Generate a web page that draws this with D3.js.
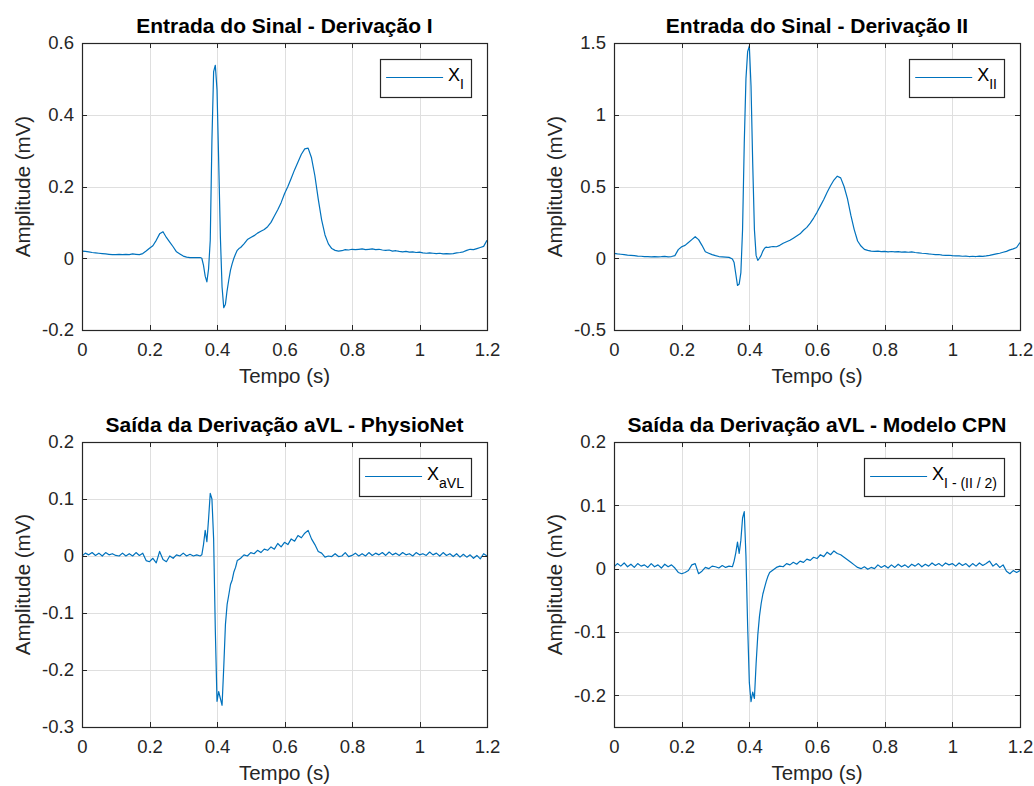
<!DOCTYPE html>
<html>
<head>
<meta charset="utf-8">
<script src="https://cdn.jsdelivr.net/npm/d3@7"></script>
<style>
  html, body { margin: 0; padding: 0; background: #fff; }
  svg { display: block; font-family: "Liberation Sans", Arial, Helvetica, sans-serif; }
</style>
</head>
<body>
<div id="chart"></div>
<script>
const WIDTH  = 1034;
const HEIGHT = 786;
const LINE_COLOR = "#0072bd";
const AXIS_COLOR = "#262626";
const GRID_COLOR = "#dfdfdf";

// sample times (s): 10 ms steps, 5 ms around the QRS complex
const tempo = [
  0.00,0.01,0.02,0.03,0.04,0.05,0.06,0.07,0.08,0.09,
  0.10,0.11,0.12,0.13,0.14,0.15,0.16,0.17,0.18,0.19,
  0.20,0.21,0.22,0.23,0.24,0.25,0.26,0.27,0.28,0.29,
  0.30,0.31,0.32,0.33,0.34,
  0.350,0.355,0.360,0.365,0.370,0.375,0.380,0.385,0.390,0.395,
  0.400,0.405,0.410,0.415,0.420,0.425,0.430,0.435,0.440,0.445,
  0.450,0.455,0.460,0.465,
  0.47,0.48,0.49,0.50,0.51,0.52,0.53,0.54,0.55,0.56,
  0.57,0.58,0.59,0.60,0.61,0.62,0.63,0.64,0.65,0.66,
  0.67,0.68,0.69,0.70,0.71,0.72,0.73,0.74,0.75,0.76,
  0.77,0.78,0.79,0.80,0.81,0.82,0.83,0.84,0.85,0.86,
  0.87,0.88,0.89,0.90,0.91,0.92,0.93,0.94,0.95,0.96,
  0.97,0.98,0.99,1.00,1.01,1.02,1.03,1.04,1.05,1.06,
  1.07,1.08,1.09,1.10,1.11,1.12,1.13,1.14,1.15,1.16,
  1.17,1.18,1.19,1.20
];

// lead I (mV)
const derivI = [
  0.020,0.019,0.018,0.016,0.015,0.014,0.013,0.012,0.011,0.010,
  0.010,0.011,0.010,0.011,0.010,0.012,0.011,0.010,0.013,0.020,
  0.028,0.035,0.050,0.068,0.074,0.058,0.045,0.032,0.018,0.012,
  0.006,0.003,0.002,0.002,0.002,
  0.002,0.000,-0.020,-0.050,-0.066,-0.030,0.050,0.330,0.520,0.538,
  0.470,0.270,0.060,-0.080,-0.138,-0.128,-0.090,-0.060,-0.033,-0.015,
  0.000,0.012,0.022,0.027,
  0.030,0.040,0.052,0.058,0.063,0.070,0.075,0.080,0.088,0.100,
  0.118,0.135,0.155,0.180,0.200,0.223,0.247,0.268,0.290,0.305,
  0.307,0.280,0.230,0.165,0.107,0.065,0.040,0.027,0.022,0.020,
  0.021,0.024,0.023,0.025,0.024,0.025,0.026,0.024,0.025,0.026,
  0.024,0.025,0.023,0.022,0.023,0.020,0.021,0.019,0.018,0.019,
  0.017,0.018,0.016,0.017,0.015,0.014,0.015,0.014,0.013,0.014,
  0.012,0.013,0.012,0.013,0.015,0.016,0.018,0.022,0.025,0.024,
  0.027,0.030,0.033,0.050
];

// lead II (mV)
const derivII = [
  0.034,0.030,0.028,0.025,0.022,0.020,0.018,0.015,0.014,0.012,
  0.011,0.010,0.012,0.010,0.011,0.013,0.010,0.012,0.018,0.060,
  0.080,0.090,0.110,0.130,0.150,0.130,0.090,0.045,0.035,0.025,
  0.018,0.012,0.010,0.008,0.006,
  -0.005,-0.030,-0.110,-0.190,-0.180,-0.100,0.200,0.800,1.250,1.440,
  1.480,1.200,0.660,0.200,0.020,-0.015,0.000,0.020,0.050,0.070,
  0.078,0.075,0.078,0.080,
  0.082,0.080,0.090,0.105,0.115,0.125,0.140,0.155,0.170,0.195,
  0.215,0.245,0.280,0.320,0.365,0.410,0.460,0.505,0.545,0.572,
  0.560,0.500,0.415,0.300,0.200,0.120,0.085,0.062,0.055,0.050,
  0.048,0.050,0.046,0.048,0.045,0.047,0.044,0.046,0.043,0.045,
  0.042,0.044,0.040,0.038,0.035,0.033,0.030,0.028,0.025,0.026,
  0.022,0.020,0.021,0.018,0.016,0.017,0.014,0.015,0.012,0.014,
  0.012,0.015,0.013,0.016,0.020,0.025,0.030,0.035,0.042,0.048,
  0.058,0.065,0.075,0.110
];

// aVL from PhysioNet (mV)
const aVLPhysioNet = [
  0.000,0.005,0.002,0.006,0.001,0.005,0.000,0.006,0.002,0.004,
  0.001,0.000,0.005,0.000,0.004,0.000,0.006,0.001,0.005,-0.008,
  -0.010,-0.004,-0.012,0.008,-0.006,-0.010,0.000,-0.004,0.002,0.000,
  0.005,0.000,0.003,0.000,0.002,
  0.000,0.002,0.020,0.045,0.025,0.065,0.110,0.100,0.030,-0.130,
  -0.255,-0.238,-0.250,-0.262,-0.195,-0.120,-0.085,-0.068,-0.050,-0.042,
  -0.028,-0.020,-0.008,-0.006,
  -0.004,0.002,0.000,0.006,0.004,0.010,0.006,0.012,0.010,0.016,
  0.012,0.022,0.016,0.024,0.020,0.030,0.026,0.036,0.032,0.040,
  0.045,0.030,0.020,0.008,0.005,-0.002,0.000,-0.001,0.004,-0.001,
  0.000,0.006,-0.001,0.001,0.005,0.000,0.004,0.000,0.006,0.001,
  0.005,0.002,0.006,0.001,0.007,0.002,0.005,0.001,0.006,0.002,
  0.004,0.000,0.006,0.002,0.004,0.001,0.007,0.002,0.005,0.000,
  0.006,0.001,0.004,-0.001,0.004,-0.002,0.003,-0.002,0.002,-0.004,
  0.001,-0.005,0.004,0.000
];

// aVL from the CPN model, I - II/2 (mV)
const aVLCPN = [
  0.003,0.008,0.004,0.009,0.003,0.007,0.002,0.008,0.004,0.006,
  0.002,0.008,0.003,0.006,0.001,0.007,0.003,0.006,0.001,-0.006,
  -0.008,-0.006,-0.003,0.006,0.008,-0.008,-0.004,0.002,0.000,0.004,
  0.003,0.001,0.005,0.002,0.004,
  0.003,0.012,0.025,0.042,0.024,0.045,0.080,0.090,0.020,-0.090,
  -0.180,-0.210,-0.195,-0.205,-0.150,-0.105,-0.075,-0.055,-0.040,-0.030,
  -0.020,-0.012,-0.006,-0.004,
  -0.002,0.002,0.004,0.003,0.008,0.006,0.010,0.007,0.012,0.010,
  0.015,0.013,0.018,0.016,0.022,0.019,0.026,0.022,0.028,0.024,
  0.022,0.018,0.014,0.010,0.006,0.002,0.000,0.003,-0.001,0.002,
  0.000,0.006,0.002,0.005,0.001,0.006,0.002,0.007,0.003,0.006,
  0.002,0.007,0.004,0.008,0.003,0.007,0.004,0.009,0.005,0.008,
  0.004,0.009,0.006,0.008,0.004,0.009,0.005,0.008,0.003,0.008,
  0.004,0.009,0.005,0.008,0.012,0.004,0.008,0.002,0.006,-0.004,
  -0.008,-0.003,-0.006,-0.003
];

const xTicks = [0, 0.2, 0.4, 0.6, 0.8, 1, 1.2];
const xTickLabels = ["0", "0.2", "0.4", "0.6", "0.8", "1", "1.2"];

const titles = [
  "Entrada do Sinal - Derivação I",
  "Entrada do Sinal - Derivação II",
  "Saída da Derivação aVL - PhysioNet",
  "Saída da Derivação aVL - Modelo CPN"
];
const legendSubs = ["I", "II", "aVL", "I - (II / 2)"];
const yDomains = [[-0.2, 0.6], [-0.5, 1.5], [-0.3, 0.2], [-0.25, 0.2]];
const yTicks = [
  [-0.2, 0, 0.2, 0.4, 0.6],
  [-0.5, 0, 0.5, 1, 1.5],
  [-0.3, -0.2, -0.1, 0, 0.1, 0.2],
  [-0.2, -0.1, 0, 0.1, 0.2]
];
const yTickLabels = [
  ["-0.2", "0", "0.2", "0.4", "0.6"],
  ["-0.5", "0", "0.5", "1", "1.5"],
  ["-0.3", "-0.2", "-0.1", "0", "0.1", "0.2"],
  ["-0.2", "-0.1", "0", "0.1", "0.2"]
];
const seriesList = [derivI, derivII, aVLPhysioNet, aVLCPN];

// axes boxes in pixels
const boxes = [
  { left: 82,  top: 43,  width: 405, height: 287 },
  { left: 614, top: 43,  width: 406, height: 287 },
  { left: 82,  top: 442, width: 405, height: 285 },
  { left: 614, top: 442, width: 406, height: 285 }
];

const svg = d3.select("#chart")
  .append("svg")
  .attr("width", WIDTH)
  .attr("height", HEIGHT);

svg.append("rect")
  .attr("width", WIDTH).attr("height", HEIGHT)
  .attr("fill", "#fff");

boxes.forEach((b, i) => {
  const g = svg.append("g").attr("transform", `translate(${b.left},${b.top})`);

  const x = d3.scaleLinear().domain([0, 1.2]).range([0, b.width]);
  const y = d3.scaleLinear().domain(yDomains[i]).range([b.height, 0]);

  // grid
  g.append("g").selectAll("line.vx")
    .data(xTicks.slice(1, -1))
    .join("line")
    .attr("x1", d => Math.round(x(d)) + 0.5).attr("x2", d => Math.round(x(d)) + 0.5)
    .attr("y1", 0).attr("y2", b.height)
    .attr("stroke", GRID_COLOR);
  g.append("g").selectAll("line.hy")
    .data(yTicks[i].filter(d => d > yDomains[i][0] && d < yDomains[i][1]))
    .join("line")
    .attr("x1", 0).attr("x2", b.width)
    .attr("y1", d => Math.round(y(d)) + 0.5).attr("y2", d => Math.round(y(d)) + 0.5)
    .attr("stroke", GRID_COLOR);

  // signal
  const clipId = `clip${i}`;
  g.append("clipPath").attr("id", clipId)
    .append("rect").attr("width", b.width).attr("height", b.height);

  const line = d3.line()
    .x((d, k) => x(tempo[k]))
    .y(d => y(d));

  g.append("path")
    .datum(seriesList[i])
    .attr("clip-path", `url(#${clipId})`)
    .attr("fill", "none")
    .attr("stroke", LINE_COLOR)
    .attr("stroke-width", 1.2)
    .attr("stroke-linejoin", "round")
    .attr("d", line);

  // box
  g.append("rect")
    .attr("x", 0.5).attr("y", 0.5)
    .attr("width", b.width).attr("height", b.height)
    .attr("fill", "none")
    .attr("stroke", AXIS_COLOR)
    .attr("stroke-width", 1.2);

  // inward ticks on all four sides
  const tk = 5;
  const ticksG = g.append("g").attr("stroke", AXIS_COLOR).attr("stroke-width", 1);
  xTicks.forEach(t => {
    const px = Math.round(x(t)) + 0.5;
    ticksG.append("line").attr("x1", px).attr("x2", px).attr("y1", b.height).attr("y2", b.height - tk);
    ticksG.append("line").attr("x1", px).attr("x2", px).attr("y1", 0).attr("y2", tk);
  });
  yTicks[i].forEach(t => {
    const py = Math.round(y(t)) + 0.5;
    ticksG.append("line").attr("x1", 0).attr("x2", tk).attr("y1", py).attr("y2", py);
    ticksG.append("line").attr("x1", b.width).attr("x2", b.width - tk).attr("y1", py).attr("y2", py);
  });

  // tick labels
  const xAxis = d3.axisBottom(x)
    .tickValues(xTicks)
    .tickFormat((d, k) => xTickLabels[k])
    .tickSize(0)
    .tickPadding(13);
  const xa = g.append("g").attr("transform", `translate(0,${b.height})`).call(xAxis);
  xa.select(".domain").remove();
  xa.selectAll("text").attr("font-size", 18.5).attr("fill", AXIS_COLOR)
    .attr("font-family", "Liberation Sans, Arial, sans-serif");

  const yAxis = d3.axisLeft(y)
    .tickValues(yTicks[i])
    .tickFormat((d, k) => yTickLabels[i][k])
    .tickSize(0)
    .tickPadding(8);
  const ya = g.append("g").call(yAxis);
  ya.select(".domain").remove();
  ya.selectAll("text").attr("font-size", 18.5).attr("fill", AXIS_COLOR)
    .attr("font-family", "Liberation Sans, Arial, sans-serif");

  // labels
  g.append("text")
    .attr("x", b.width / 2).attr("y", b.height + 53)
    .attr("text-anchor", "middle")
    .attr("font-size", 20.5).attr("fill", AXIS_COLOR)
    .text("Tempo (s)");

  g.append("text")
    .attr("transform", `translate(${-52},${b.height / 2}) rotate(-90)`)
    .attr("text-anchor", "middle")
    .attr("font-size", 20.5).attr("fill", AXIS_COLOR)
    .text("Amplitude (mV)");

  g.append("text")
    .attr("x", b.width / 2).attr("y", -10)
    .attr("text-anchor", "middle")
    .attr("font-size", 21).attr("font-weight", "bold").attr("fill", "#000")
    .text(titles[i]);

  // legend
  const lg = g.append("g");
  const lbl = lg.append("text")
    .attr("font-size", 18).attr("fill", "#000");
  lbl.append("tspan").text("X");
  lbl.append("tspan").attr("font-size", 14).attr("dy", 8).text(legendSubs[i]);
  const textW = lbl.node().getComputedTextLength();
  const boxW = 6 + 57 + 5 + textW + 7;
  const boxH = 38;
  const bx = b.width - 16 - boxW;
  const by = 16;
  lg.insert("rect", "text")
    .attr("x", Math.round(bx) + 0.5).attr("y", by + 0.5)
    .attr("width", Math.round(boxW)).attr("height", boxH)
    .attr("fill", "#fff")
    .attr("stroke", AXIS_COLOR)
    .attr("stroke-width", 1.2);
  lg.insert("line", "text")
    .attr("x1", bx + 6).attr("x2", bx + 63)
    .attr("y1", by + 18.5).attr("y2", by + 18.5)
    .attr("stroke", LINE_COLOR).attr("stroke-width", 1.2);
  lbl.attr("x", bx + 68).attr("y", by + 22);
});
</script>
</body>
</html>
